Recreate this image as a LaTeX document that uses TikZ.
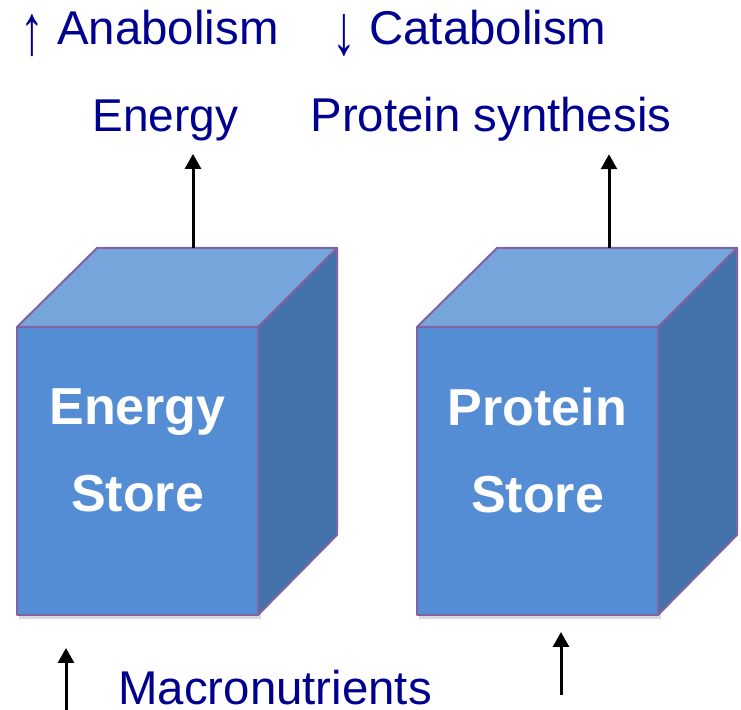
\documentclass[tikz,border=0pt]{standalone}
\usepackage{fontspec}
\setmainfont{Liberation Sans}
\usetikzlibrary{arrows.meta}
\definecolor{frontblue}{RGB}{84,141,212}
\definecolor{topblue}{RGB}{118,165,219}
\definecolor{sideblue}{RGB}{68,114,170}
\definecolor{edgepurple}{RGB}{128,100,162}
\definecolor{textblue}{RGB}{0,0,144}
\newcommand{\tallarrow}[1]{\raisebox{-0.2em}{\scalebox{1}[1.5]{#1}}}

\begin{document}
\begin{tikzpicture}[x=0.5pt,y=-0.5pt,
  face/.style={draw=edgepurple,line width=1pt,line join=round},
  lbl/.style={text=textblue,font=\fontsize{23.7}{27}\selectfont,anchor=base west,inner sep=0pt},
  storelbl/.style={text=white,font=\bfseries\fontsize{26}{43.5}\selectfont,align=center,inner sep=0pt},
  up/.style={-{Triangle[length=7.5pt,width=8pt]},line width=1.5pt}]
\useasboundingbox (0,0) rectangle (741,710);
% the two stores
\foreach \x/\nm in {17/energy,417/protein}{
  \fill[black,opacity=.15] (\x+2,330) rectangle (\x+244,619);
  \draw[face,fill=frontblue] (\x,327) rectangle (\x+241,615);
  \draw[face,fill=topblue] (\x,327) -- (\x+80,248) -- (\x+320,248) -- (\x+241,327) -- cycle;
  \draw[face,fill=sideblue] (\x+241,327) -- (\x+320,248) -- (\x+320,535) -- (\x+241,615) -- cycle;
  \coordinate (\nm-bottom) at (\x+120,615);
}
\node[storelbl] (energy) at (137.5,450) {Energy\\Store};
\node[storelbl] (protein) at (537.5,450) {Protein\\Store};

% labels
\node[lbl] (anabolism) at (20,45) {\tallarrow{↑} Anabolism};
\node[lbl] (catabolism) at (332,45) {\tallarrow{↓} Catabolism};
\node[lbl,font=\fontsize{23}{27}\selectfont] (energyout) at (92,132) {Energy};
\node[lbl] (proteinout) at (310,132) {Protein synthesis};
\node[lbl] (macro) at (118,705) {Macronutrients};

% arrows
\coordinate (etop) at (193,248);
\coordinate (ptop) at (609,248);
\coordinate (ein) at (66,712);
\coordinate (pin) at (561,695);
\draw[up,shorten >=6pt] (etop) -- (etop |- energyout.south);
\draw[up,shorten >=6pt] (ptop) -- (ptop |- proteinout.south);
\draw[up,shorten >=16.5pt] (ein) -- (ein |- energy-bottom);
\draw[up,shorten >=8.5pt] (pin) -- (pin |- protein-bottom);
\end{tikzpicture}
\end{document}
